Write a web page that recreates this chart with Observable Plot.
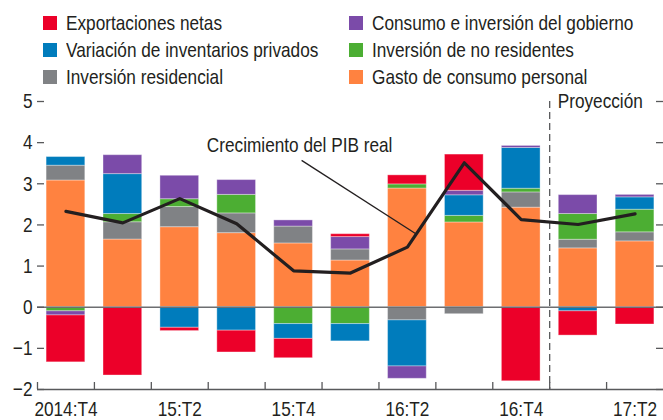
<!DOCTYPE html>
<html><head><meta charset="utf-8">
<script src="https://cdn.jsdelivr.net/npm/d3@7"></script>
<script src="https://cdn.jsdelivr.net/npm/@observablehq/plot@0.6"></script>
<style>
body{margin:0;background:#fff;font-family:"Liberation Sans",Arial,sans-serif;color:#231F20;}
#legend{position:relative;width:663px;height:90px;font-size:21px;}
.item{position:absolute;display:flex;align-items:center;white-space:nowrap;line-height:1;height:24px}
.sw{width:14px;height:14px;margin-right:9px;flex:none}
.lt{display:inline-block;transform:scaleX(0.82);transform-origin:0 50%}
</style></head><body>
<div id="legend"></div><div id="chart"></div>
<script>
const quarters = ["2014:T4","15:T1","15:T2","15:T3","15:T4","16:T1","16:T2","16:T3","16:T4","17:T1","17:T2"];
const tickLabels = ["2014:T4","15:T2","15:T4","16:T2","16:T4","17:T2"];
const yTicks = [-2,-1,0,1,2,3,4,5];

// series in stacking order (bottom -> top)
const gastoConsumo   = [3.08, 1.645, 1.945, 1.80, 1.55, 1.135, 2.885, 2.06, 2.42, 1.43, 1.60];
const invResidencial = [0.36, 0.42, 0.49, 0.48, 0.41, 0.27, -0.32, -0.17, 0.37, 0.21, 0.22];
const invNoResid     = [-0.10, 0.20, 0.19, 0.45, -0.41, -0.41, 0.10, 0.16, 0.09, 0.625, 0.55];
const varInventarios = [0.21, 0.97, -0.50, -0.57, -0.36, -0.42, -1.12, 0.50, 0.99, -0.10, 0.30];
const gobierno       = [-0.10, 0.46, 0.57, 0.36, 0.15, 0.30, -0.30, 0.11, 0.05, 0.46, 0.06];
const exportaciones  = [-1.14, -1.66, -0.08, -0.53, -0.47, 0.07, 0.22, 0.88, -1.80, -0.59, -0.42];
const pibReal        = [2.33, 2.05, 2.64, 2.03, 0.885, 0.83, 1.46, 3.51, 2.13, 2.01, 2.27];

const seriesNames = ["Gasto de consumo personal","Inversión residencial","Inversión de no residentes","Variación de inventarios privados","Consumo e inversión del gobierno","Exportaciones netas"];
const seriesColors = ["#FF8240","#808285","#4CAE33","#007CBC","#7B4BA9","#EC0029"];
const seriesValues = [gastoConsumo, invResidencial, invNoResid, varInventarios, gobierno, exportaciones];
const legendOrder = ["Exportaciones netas","Variación de inventarios privados","Inversión residencial","Consumo e inversión del gobierno","Inversión de no residentes","Gasto de consumo personal"];

// legend
const leg = document.getElementById("legend");
legendOrder.forEach((name, i) => {
  const col = Math.floor(i / 3), row = i % 3;
  const it = document.createElement("div");
  it.className = "item";
  it.style.left = (col ? 349 : 43) + "px";
  it.style.top = (10.5 + row * 27) + "px";
  const sw = document.createElement("span");
  sw.className = "sw";
  sw.style.background = seriesColors[seriesNames.indexOf(name)];
  it.appendChild(sw);
  const t = document.createElement("span");
  t.className = "lt";
  t.textContent = name;
  it.appendChild(t);
  leg.appendChild(it);
});

const rows = [];
seriesValues.forEach((vals, s) => vals.forEach((v, i) => rows.push({q: quarters[i], key: seriesNames[s], v})));
const gdp = quarters.map((q, i) => ({q, v: pibReal[i]}));

const W = 663, H = 330, mL = 37, mR = 0, mT = 11, mB = 31;
const fw = W - mL - mR, fh = H - mT - mB;
const step = fw / quarters.length;
const font = '"Liberation Sans",Arial,sans-serif';
const ink = "#231F20", axisInk = "#58595B";

const chart = Plot.plot({
  width: W, height: H, marginLeft: mL, marginRight: mR, marginTop: mT, marginBottom: mB,
  style: {fontFamily: font, fontSize: "21px", color: ink, background: "white", overflow: "visible"},
  x: {domain: quarters, paddingInner: 0.32, paddingOuter: 0.16, round: false, axis: null},
  y: {domain: [-2, 5], axis: null},
  color: {domain: seriesNames, range: seriesColors},
  marks: [
    Plot.barY(rows, {x: "q", y: "v", fill: "key", stroke: "white", strokeOpacity: 0.35, strokeWidth: 1}),
    Plot.ruleY([0], {stroke: "#6D6E71", strokeWidth: 1.4}),
    Plot.ruleY([-2], {stroke: axisInk, strokeWidth: 1.5}),
    Plot.ruleY(yTicks, {y: d => d, insetRight: fw - 7, stroke: axisInk, strokeWidth: 1.3}),
    Plot.ruleY(yTicks, {y: d => d, insetLeft: fw - 7, stroke: axisInk, strokeWidth: 1.3}),
    Plot.axisY({ticks: yTicks, tickFormat: d3.format("d"), tickSize: 0, tickPadding: 5, fontSize: 21, fill: ink}),
    Plot.ruleX(quarters, {x: d => d, dx: -step / 2, insetTop: fh - 7, stroke: axisInk, strokeWidth: 1.3}),
    Plot.axisX({ticks: tickLabels, tickSize: 0, tickPadding: 12, fontSize: 21, fill: ink}),
    Plot.ruleX(["17:T1"], {x: d => d, dx: -step / 2, stroke: "#58595B", strokeWidth: 1.3, strokeDasharray: "7,4"}),
    Plot.text(["Proyección"], {x: () => "17:T1", y: () => 5, dx: -step / 2 + 8, textAnchor: "start", fill: ink, fontSize: 21}),
    Plot.lineY(gdp, {x: "q", y: "v", stroke: ink, strokeWidth: 3.2}),
    Plot.link([{x1: "15:T4", y1: 3.57, x2: "16:T2", y2: 1.79}], {x1: "x1", y1: "y1", x2: "x2", y2: "y2", dx: 8, stroke: ink, strokeWidth: 1.3}),
    Plot.text(["Crecimiento del PIB real"], {x: () => "15:T4", y: () => 3.93, dx: 6, fill: ink, fontSize: 21})
  ]
});
// condense all SVG text horizontally about its anchor (narrow typeface look)
chart.querySelectorAll("text").forEach(t => {
  const x = parseFloat(t.getAttribute("x")) || 0;
  const tr = t.getAttribute("transform") || "";
  t.setAttribute("transform", `${tr} translate(${x},0) scale(0.82,1) translate(${-x},0)`);
});
document.getElementById("chart").appendChild(chart);
</script>
</body></html>
